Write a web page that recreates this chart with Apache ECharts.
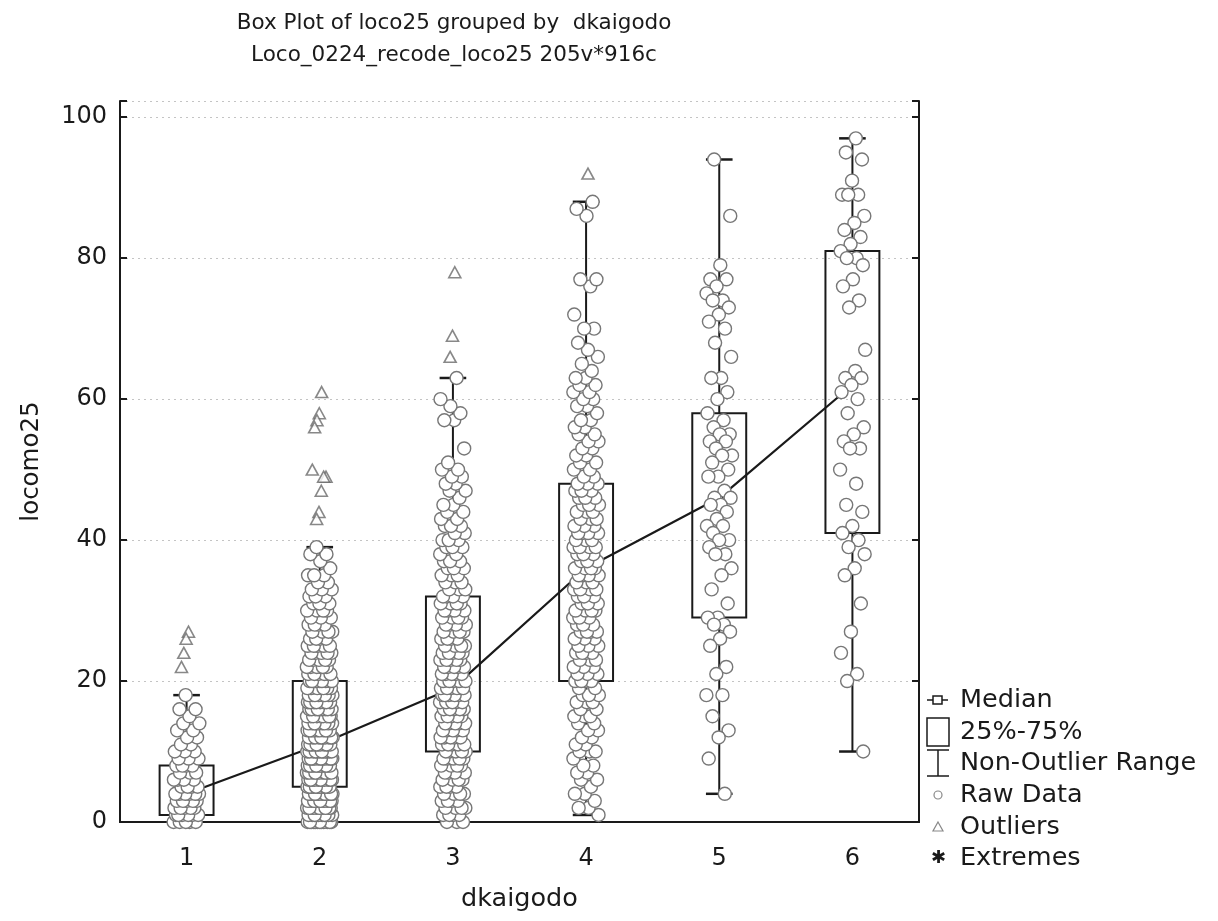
<!DOCTYPE html>
<html>
<head>
<meta charset="utf-8">
<script src="https://cdn.jsdelivr.net/npm/echarts@6/dist/echarts.min.js"></script>
<style>
  html, body { margin: 0; padding: 0; background: #fff; }
  #chart { width: 1218px; height: 921px; }
</style>
</head>
<body>
<div id="chart"></div>
<script>
// groups on the x axis
const categories = ['1', '2', '3', '4', '5', '6'];

// [non-outlier min, 25%, median, 75%, non-outlier max]
const boxStats = [
  [0, 1, 4, 8, 18],
  [0, 5, 11, 20, 39],
  [0, 10, 19, 32, 63],
  [1, 20, 36, 48, 88],
  [4, 29, 46, 58, 94],
  [10, 41, 62, 81, 97]
];
const medians = [4, 11, 19, 36, 46, 62];

// raw data: how many cases per value (value = position in the array)
const counts1 = [5, 6, 5, 5, 6, 4, 4, 3, 4, 3, 3, 2, 2, 2, 2, 1, 2, 0, 1]; // 0..18
const counts2 = [12, 10, 12, 11, 12, 12, 11, 11, 12, 11, 12, 11, 10, 10, 9, 9, 9, 8, 8, 7,
  9, 6, 6, 5, 5, 5, 4, 4, 4, 3, 4, 3, 3, 3, 2, 3, 1, 1, 2, 1]; // 0..39
const counts3 = [3, 4, 4, 4, 4, 4, 4, 4, 4, 5, 5, 5, 5, 5, 5, 5, 5, 5, 6, 6,
  5, 5, 5, 5, 5, 4, 4, 4, 4, 4, 4, 4, 4, 3, 3, 3, 3, 3, 2, 3,
  3, 2, 3, 2, 2, 2, 1, 2, 2, 2, 2, 1, 0, 1, 0, 0, 0, 2, 1, 1,
  1, 0, 0, 1]; // 0..63
const counts4 = [0, 1, 2, 1, 2, 1, 2, 2, 2, 1, 3, 2, 2, 2, 2, 3, 2, 3, 3, 2,
  4, 3, 3, 3, 4, 3, 3, 4, 3, 3, 4, 3, 3, 4, 3, 4, 4, 3, 3, 4,
  3, 4, 3, 3, 3, 3, 3, 3, 3, 2, 2, 2, 2, 2, 2, 2, 2, 2, 1, 2,
  2, 2, 2, 2, 1, 1, 1, 1, 1, 0, 2, 0, 1, 0, 0, 0, 1, 2, 0, 0,
  0, 0, 0, 0, 0, 0, 1, 1, 1]; // 0..88
const values5 = [94, 86, 79, 77, 77, 76, 75, 74, 74, 73, 72, 71, 70, 68, 66, 63, 63, 61, 60, 58,
  57, 56, 55, 55, 54, 54, 53, 52, 52, 51, 50, 49, 49, 47, 46, 46, 45, 45, 44, 43,
  42, 42, 41, 40, 40, 39, 38, 38, 36, 35, 33, 31, 29, 29, 28, 28, 27, 26, 25, 22,
  21, 18, 18, 15, 13, 12, 9, 4];
const values6 = [97, 95, 94, 91, 89, 89, 89, 86, 85, 84, 83, 82, 81, 80, 80, 79, 77, 76, 74, 73,
  67, 64, 63, 63, 62, 61, 60, 58, 56, 55, 54, 53, 53, 50, 48, 45, 44, 42, 41, 40,
  39, 38, 36, 35, 31, 27, 24, 21, 20, 10];

// outliers per group
const outliers = [
  [27, 26, 24, 22],
  [61, 58, 57, 56, 50, 49, 49, 47, 44, 43],
  [78, 69, 66],
  [92],
  [],
  []
];
const extremes = [];

function expand(counts) {
  const out = [];
  counts.forEach((c, v) => { for (let j = 0; j < c; j++) out.push(v); });
  return out;
}
const rawGroups = [expand(counts1), expand(counts2), expand(counts3), expand(counts4), values5, values6];

// horizontal jitter in pixels, spread evenly
function jitter(i, half) {
  return (((i * 0.6180339887) % 1) * 2 - 1) * half;
}

const rawPoints = [];
rawGroups.forEach((vals, g) => {
  vals.forEach((v, i) => {
    rawPoints.push({ value: [g, v], symbolOffset: [jitter(i + g * 7, 13), 0] });
  });
});
const outlierPoints = [];
outliers.forEach((vals, g) => {
  vals.forEach((v, i) => {
    outlierPoints.push({ value: [g, v], symbolOffset: [jitter(i * 3 + 1, 8), 0] });
  });
});

const FONT = 'DejaVu Sans';
const INK = '#1a1a1a';

function renderBox(params, api) {
  const x = api.value(0);
  const lo = api.coord([x, api.value(1)]);
  const q1 = api.coord([x, api.value(2)]);
  const q3 = api.coord([x, api.value(4)]);
  const hi = api.coord([x, api.value(5)]);
  const band = api.size([1, 0])[0];
  const bw = band * 0.405;
  const cw = band * 0.2;
  const cx = q1[0];
  const st = { stroke: INK, lineWidth: 2, fill: null };
  return {
    type: 'group',
    children: [
      { type: 'line', shape: { x1: cx, y1: q3[1], x2: cx, y2: hi[1] }, style: st },
      { type: 'line', shape: { x1: cx, y1: q1[1], x2: cx, y2: lo[1] }, style: st },
      { type: 'line', shape: { x1: cx - cw / 2, y1: hi[1], x2: cx + cw / 2, y2: hi[1] }, style: { stroke: INK, lineWidth: 2.5 } },
      { type: 'line', shape: { x1: cx - cw / 2, y1: lo[1], x2: cx + cw / 2, y2: lo[1] }, style: { stroke: INK, lineWidth: 2.5 } },
      { type: 'rect', shape: { x: cx - bw / 2, y: q3[1], width: bw, height: q1[1] - q3[1] }, style: { stroke: INK, lineWidth: 2, fill: 'rgba(0,0,0,0)' } }
    ]
  };
}

// legend drawn as graphics (icons like the original)
const lx = 938;
const rows = [700, 732, 763, 795, 827, 858];
const legendNames = ['Median', '25%-75%', 'Non-Outlier Range', 'Raw Data', 'Outliers', 'Extremes'];
const legendGraphics = [
  { type: 'line', shape: { x1: lx - 11, y1: rows[0], x2: lx - 5, y2: rows[0] }, style: { stroke: INK, lineWidth: 1.5 } },
  { type: 'rect', shape: { x: lx - 5, y: rows[0] - 4, width: 9, height: 8 }, style: { stroke: INK, lineWidth: 1.5, fill: '#fff' } },
  { type: 'line', shape: { x1: lx + 4, y1: rows[0], x2: lx + 10, y2: rows[0] }, style: { stroke: INK, lineWidth: 1.5 } },
  { type: 'rect', shape: { x: lx - 11, y: rows[1] - 14, width: 22, height: 28 }, style: { stroke: INK, lineWidth: 1.5, fill: '#fff' } },
  { type: 'line', shape: { x1: lx - 11, y1: rows[2] - 13, x2: lx + 11, y2: rows[2] - 13 }, style: { stroke: INK, lineWidth: 1.5 } },
  { type: 'line', shape: { x1: lx, y1: rows[2] - 13, x2: lx, y2: rows[2] + 13 }, style: { stroke: INK, lineWidth: 1.5 } },
  { type: 'line', shape: { x1: lx - 11, y1: rows[2] + 13, x2: lx + 11, y2: rows[2] + 13 }, style: { stroke: INK, lineWidth: 1.5 } },
  { type: 'circle', shape: { cx: lx, cy: rows[3], r: 4 }, style: { stroke: '#888', lineWidth: 1.2, fill: '#fff' } },
  { type: 'polygon', shape: { points: [[lx, rows[4] - 5], [lx + 5, rows[4] + 4], [lx - 5, rows[4] + 4]] }, style: { stroke: '#888', lineWidth: 1.2, fill: '#fff' } },
  { type: 'text', style: { text: '✱', x: lx, y: rows[5], fontSize: 18, fill: INK, align: 'center', verticalAlign: 'middle' } }
];
legendNames.forEach((n, i) => {
  legendGraphics.push({
    type: 'text',
    style: { text: n, x: 960, y: rows[i], fontSize: 25.5, fontFamily: FONT, fill: INK, verticalAlign: 'middle' }
  });
});

const chart = echarts.init(document.getElementById('chart'));
const option = {
  backgroundColor: '#fff',
  animation: false,
  title: {
    text: 'Box Plot of loco25 grouped by  dkaigodo\nLoco_0224_recode_loco25 205v*916c',
    left: 449,
    top: 2,
    textAlign: 'center',
    textStyle: { fontFamily: FONT, fontSize: 21.5, fontWeight: 'normal', color: INK, lineHeight: 32 }
  },
  grid: { left: 120, right: 299, top: 101, bottom: 99 },
  xAxis: [
    {
      type: 'category',
      data: categories,
      position: 'bottom',
      name: 'dkaigodo',
      nameLocation: 'middle',
      nameGap: 64,
      nameTextStyle: { fontFamily: FONT, fontSize: 25.5, color: INK },
      axisLine: { lineStyle: { color: INK, width: 2 } },
      axisTick: { inside: true, alignWithLabel: true, length: 7, lineStyle: { color: INK, width: 2 } },
      axisLabel: { fontFamily: FONT, fontSize: 24, color: INK, margin: 25 },
      splitLine: { show: false }
    },
    {
      type: 'category',
      data: categories,
      position: 'top',
      axisLine: { lineStyle: { color: INK, width: 2 } },
      axisTick: { inside: true, alignWithLabel: true, length: 7, lineStyle: { color: INK, width: 2 } },
      axisLabel: { show: false },
      splitLine: { show: false }
    }
  ],
  yAxis: [
    {
      type: 'value',
      min: 0,
      max: 102.3,
      interval: 20,
      name: 'locomo25',
      nameLocation: 'middle',
      nameGap: 76,
      nameTextStyle: { fontFamily: FONT, fontSize: 24.5, color: INK },
      axisLine: { show: true, lineStyle: { color: INK, width: 2 } },
      axisTick: { show: true, inside: true, length: 7, lineStyle: { color: INK, width: 2 } },
      axisLabel: {
        fontFamily: FONT, fontSize: 24, color: INK, margin: 13,
        formatter: v => (v % 20 === 0 ? String(v) : '')
      },
      splitLine: { show: true, lineStyle: { color: '#c4c4c4', width: 1, type: [2, 4] } }
    },
    {
      type: 'value',
      min: 0,
      max: 102.3,
      interval: 20,
      position: 'right',
      axisLine: { show: true, lineStyle: { color: INK, width: 2 } },
      axisTick: { show: true, inside: true, length: 7, lineStyle: { color: INK, width: 2 } },
      axisLabel: { show: false },
      splitLine: { show: false }
    }
  ],
  series: [
    {
      name: '25%-75%',
      type: 'custom',
      renderItem: renderBox,
      encode: { x: 0, y: [1, 2, 3, 4, 5] },
      data: boxStats.map((s, i) => [i].concat(s)),
      z: 2
    },
    {
      name: 'Median',
      type: 'line',
      data: medians,
      symbol: 'rect',
      symbolSize: 7,
      itemStyle: { color: '#fff', borderColor: INK, borderWidth: 1.5 },
      lineStyle: { color: INK, width: 2.2 },
      z: 3
    },
    {
      name: 'Raw Data',
      type: 'scatter',
      data: rawPoints,
      symbol: 'circle',
      symbolSize: 13,
      large: false,
      itemStyle: { color: '#fff', borderColor: '#777', borderWidth: 1.4, opacity: 1 },
      z: 4
    },
    {
      name: 'Outliers',
      type: 'scatter',
      data: outlierPoints,
      symbol: 'triangle',
      symbolSize: [12, 11],
      itemStyle: { color: '#fff', borderColor: '#6a6a6a', borderWidth: 1.6 },
      z: 4
    },
    {
      name: 'Extremes',
      type: 'scatter',
      data: extremes,
      symbol: 'circle',
      z: 4
    }
  ],
  graphic: legendGraphics
};
chart.setOption(option);
</script>
</body>
</html>
